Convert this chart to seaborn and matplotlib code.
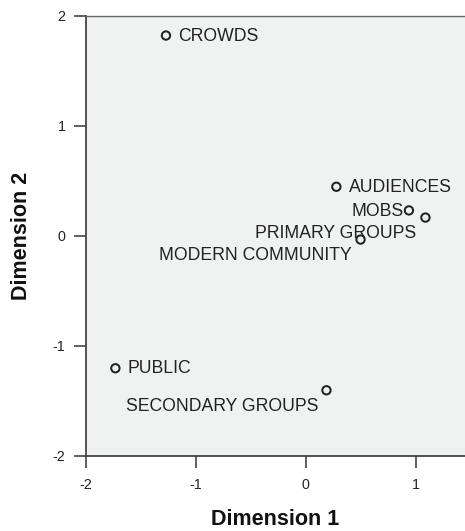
import numpy as np
import pandas as pd
import matplotlib
matplotlib.use("Agg")
import matplotlib.pyplot as plt
import seaborn as sns

# object points (common space)
labels = ["CROWDS", "AUDIENCES", "MOBS", "PRIMARY GROUPS", "MODERN COMMUNITY",
          "PUBLIC", "SECONDARY GROUPS"]
dim1 = [-1.27, 0.28, 0.94, 1.09, 0.50, -1.73, 0.19]
dim2 = [1.82, 0.445, 0.23, 0.165, -0.035, -1.205, -1.405]
xticks = [-2, -1, 0, 1]
yticks = [-2, -1, 0, 1, 2]

df = pd.DataFrame({"label": labels, "Dimension 1": dim1, "Dimension 2": dim2})

# where each label sits relative to its point (offset in points, alignment)
placement = {
    "CROWDS": ((9, -0.5), "left"),
    "AUDIENCES": ((9, -0.5), "left"),
    "MOBS": ((-3.5, -0.5), "right"),
    "PRIMARY GROUPS": ((-6.5, -11.8), "right"),
    "MODERN COMMUNITY": ((-6, -11.8), "right"),
    "PUBLIC": ((9, -0.5), "left"),
    "SECONDARY GROUPS": ((-6, -11.8), "right"),
}

plt.rcParams['font.family'] = ['Liberation Sans', 'DejaVu Sans']
plt.rcParams['axes.unicode_minus'] = False

fig = plt.figure(figsize=(4.65, 5.31), dpi=100)
ax = fig.add_axes([0.1843, 0.1418, 0.8157, 0.8286])
ax.set_facecolor('#f0f1f1')

sns.scatterplot(data=df, x="Dimension 1", y="Dimension 2", ax=ax,
                marker='o', s=36, facecolor='none', edgecolor='#222222',
                linewidth=1.45, zorder=3)

for lab, x, y in zip(labels, dim1, dim2):
    off, ha = placement[lab]
    ax.annotate(lab, (x, y), xytext=off, textcoords='offset points',
                ha=ha, va='center', fontsize=12.7, color='#222222')

ax.set_xlim(-2, 1.45)
ax.set_ylim(-2, 2)
ax.set_xticks(xticks)
ax.set_yticks(yticks)
ax.tick_params(length=8.5, width=1.2, color='#444444', labelsize=10.3,
               labelcolor='#222222')
ax.tick_params(axis='x', pad=7.5)
ax.tick_params(axis='y', pad=6)

for side in ['left', 'bottom']:
    ax.spines[side].set_color('#444444')
    ax.spines[side].set_linewidth(1.3)
ax.spines['top'].set_color('#666666')
ax.spines['top'].set_linewidth(1.0)
ax.spines['right'].set_visible(False)

ax.set_xlabel("Dimension 1", fontsize=15.5, fontweight='bold', labelpad=12.5,
              color='#111111')
ax.set_ylabel("Dimension 2", fontsize=15.5, fontweight='bold', labelpad=15,
              color='#111111')

fig.savefig("out.png", dpi=100)
